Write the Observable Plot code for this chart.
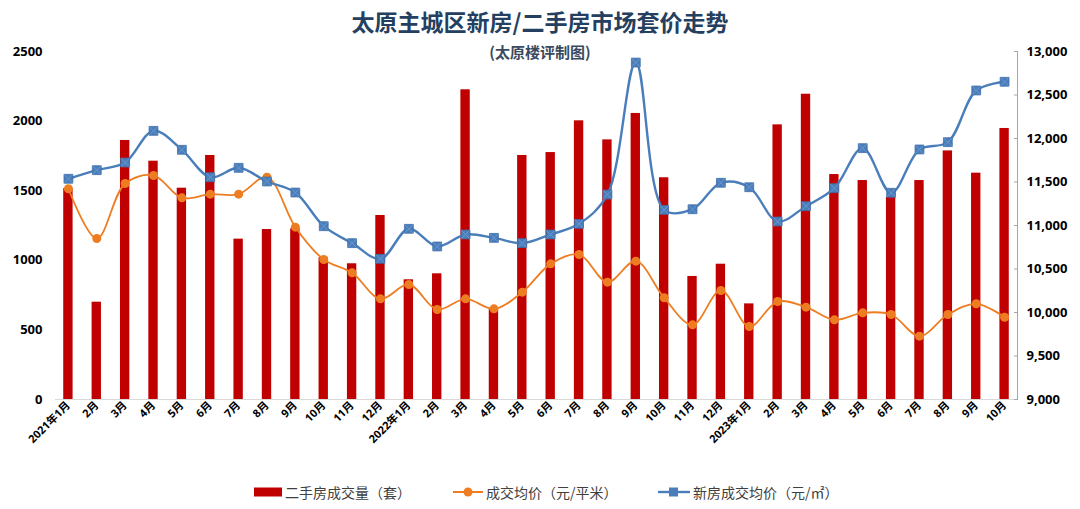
<!DOCTYPE html>
<html>
<head>
<meta charset="utf-8">
<script src="https://cdn.jsdelivr.net/npm/d3@7"></script>
<script src="https://cdn.jsdelivr.net/npm/@observablehq/plot@0.6"></script>
<style>
  html, body { margin: 0; padding: 0; background: #fff; }
  #wrap { position: relative; width: 1080px; height: 509px; overflow: hidden;
          font-family: "Noto Sans CJK SC", "Noto Sans", sans-serif; }
  #title { position: absolute; left: 0; width: 1080px; top: 4px; text-align: center;
           font-size: 23px; font-weight: 700; color: #243f60; }
  #subtitle { position: absolute; left: 0; width: 1080px; top: 41px; text-align: center;
              font-size: 15px; font-weight: 700; color: #3a4a5e; }
  #chart { position: absolute; left: 0; top: 0; }
  #legend { position: absolute; left: 0; top: 481px; width: 1080px; height: 22px;
            font-size: 14px; color: #404040; }
  .li { position: absolute; top: 0; display: flex; align-items: center; height: 22px; }
  .li svg { margin-right: 3px; }
</style>
</head>
<body>
<div id="wrap">
  <div id="chart"></div>
  <div id="title">太原主城区新房/二手房市场套价走势</div>
  <div id="subtitle">(太原楼评制图)</div>
  <div id="legend"></div>
</div>
<script>
// Month labels
const months = ["2021年1月","2月","3月","4月","5月","6月","7月","8月","9月","10月","11月","12月",
                "2022年1月","2月","3月","4月","5月","6月","7月","8月","9月","10月","11月","12月",
                "2023年1月","2月","3月","4月","5月","6月","7月","8月","9月","10月"];
// 二手房成交量（套） – left axis
const volume = [1515, 699, 1861, 1712, 1518, 1753, 1152, 1221, 1226, 1018, 975, 1322,
                860, 903, 2225, 650, 1753, 1774, 2002, 1865, 2055, 1593, 884, 972,
                687, 1973, 2193, 1616, 1573, 1453, 1573, 1786, 1626, 1947];
// 成交均价（元/平米） – right axis
const avgPrice = [11422, 10851, 11483, 11575, 11318, 11360, 11360, 11555, 10981, 10609, 10456, 10157,
                  10322, 10034, 10157, 10042, 10234, 10559, 10667, 10349, 10590, 10169, 9858, 10253,
                  9839, 10126, 10061, 9916, 9996, 9977, 9728, 9977, 10100, 9946];
// 新房成交均价（元/㎡） – right axis
const newPrice = [11537, 11636, 11724, 12088, 11870, 11555, 11663, 11506, 11379, 10992, 10797, 10617,
                  10962, 10759, 10897, 10858, 10797, 10897, 11019, 11356, 12873, 11180, 11187, 11491,
                  11440, 11046, 11222, 11429, 11889, 11376, 11874, 11958, 12552, 12652];
const leftTicks = [0, 500, 1000, 1500, 2000, 2500];
const rightTicks = [9000, 9500, 10000, 10500, 11000, 11500, 12000, 12500, 13000];

const leftDomain = [0, 2500];
const rightDomain = [9000, 13000];
const y2 = d3.scaleLinear(rightDomain, leftDomain);

const rows = months.map((m, i) => ({i, m, vol: volume[i], avg: avgPrice[i], nw: newPrice[i]}));

const RED = "#c00000", ORANGE = "#ee7d22", BLUE = "#4a7ebb";

const chart = Plot.plot({
  width: 1080,
  height: 509,
  marginTop: 51,
  marginBottom: 110,
  marginLeft: 55,
  marginRight: 63,
  style: {fontFamily: "'Open Sans', 'Noto Sans CJK SC', sans-serif", background: "transparent"},
  x: {type: "band", domain: d3.range(months.length), paddingInner: 0.67, paddingOuter: 0.29, round: false, axis: null},
  y: {domain: leftDomain, axis: null},
  marks: [
    Plot.barY(rows, {x: "i", y: "vol", fill: RED}),
    Plot.ruleY([0], {stroke: "#d9d9d9", strokeWidth: 1.2}),
    Plot.frame({anchor: "right", stroke: "#a6a6a6"}),
    Plot.axisY(leftTicks, {anchor: "left", tickSize: 0, tickPadding: 13, label: null,
      tickFormat: d => String(d), fontSize: 13, fontWeight: "bold", fill: "#000"}),
    Plot.axisY(rightTicks, {anchor: "right", y: y2, tickSize: -4, tickPadding: 13, label: null,
      stroke: "#a6a6a6", tickFormat: d3.format(","), fontSize: 13, fontWeight: "bold"}),
    Plot.axisX(d3.range(months.length), {anchor: "bottom", tickSize: 0, tickPadding: 4, label: null,
      tickRotate: -45, tickFormat: i => months[i], fontSize: 11, fontWeight: "bold", fill: "#000"}),
    Plot.line(rows, {x: "i", y: d => y2(d.avg), stroke: ORANGE, strokeWidth: 1.8, curve: "catmull-rom"}),
    Plot.dot(rows, {x: "i", y: d => y2(d.avg), fill: ORANGE, r: 4.5, stroke: "none"}),
    Plot.line(rows, {x: "i", y: d => y2(d.nw), stroke: BLUE, strokeWidth: 2.4, curve: "catmull-rom"}),
    Plot.dot(rows, {x: "i", y: d => y2(d.nw), fill: BLUE, symbol: "square", r: 5, stroke: "#3f6fa8", strokeWidth: 0.8}),
    Plot.dot(rows, {x: "i", y: d => y2(d.nw), symbol: "times", r: 3.8, stroke: "#6b97cc", strokeWidth: 1})
  ]
});
d3.select(chart).selectAll("g[aria-label='y-axis tick label'] text").attr("fill", "#000");
document.getElementById("chart").appendChild(chart);

// Legend
const legend = document.getElementById("legend");
const items = [
  {left: 254, label: "二手房成交量（套）", svg: `<svg width="28" height="12"><rect x="0" y="1.5" width="28" height="9" fill="${RED}"/></svg>`},
  {left: 453, label: "成交均价（元/平米）", svg: `<svg width="30" height="12"><line x1="0" y1="6" x2="30" y2="6" stroke="${ORANGE}" stroke-width="2"/><circle cx="15" cy="6" r="4.5" fill="${ORANGE}"/></svg>`},
  {left: 658, label: "新房成交均价（元/㎡）", svg: `<svg width="32" height="12"><line x1="0" y1="6" x2="32" y2="6" stroke="${BLUE}" stroke-width="2.4"/><rect x="11" y="1.5" width="9" height="9" fill="${BLUE}"/></svg>`}
];
for (const it of items) {
  const d = document.createElement("div");
  d.className = "li";
  d.style.left = it.left + "px";
  d.innerHTML = it.svg + `<span>${it.label}</span>`;
  legend.appendChild(d);
}
</script>
</body>
</html>
